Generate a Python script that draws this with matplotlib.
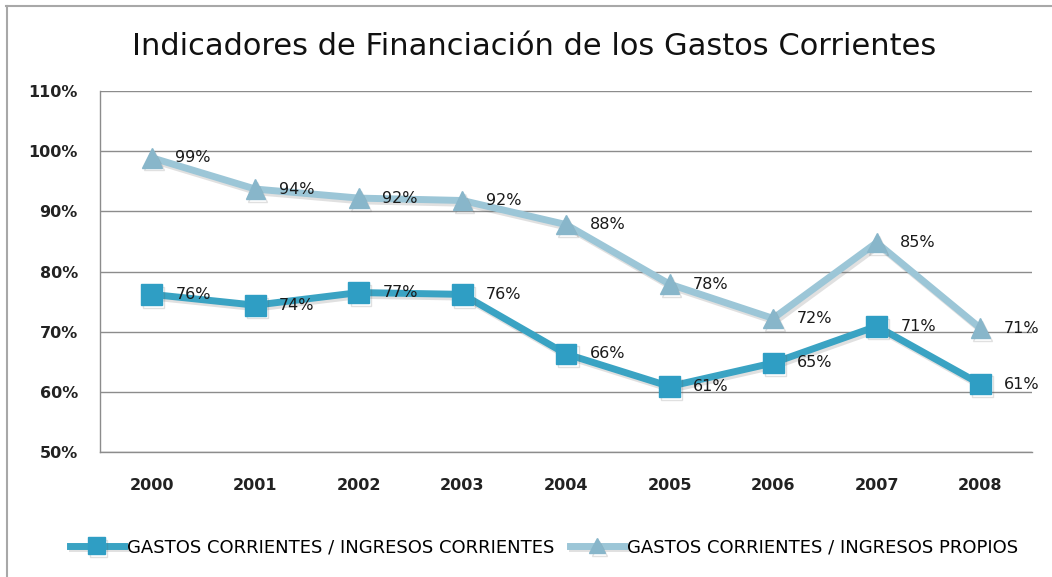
import matplotlib
matplotlib.use("Agg")
import matplotlib.pyplot as plt
import matplotlib.patheffects as pe
from matplotlib.lines import Line2D

years = ['2000', '2001', '2002', '2003', '2004', '2005', '2006', '2007', '2008']
ratio_corrientes = [76.2, 74.4, 76.5, 76.2, 66.3, 60.9, 64.8, 70.9, 61.3]
labels_corrientes = ['76%', '74%', '77%', '76%', '66%', '61%', '65%', '71%', '61%']
ratio_propios = [98.9, 93.7, 92.2, 91.8, 87.8, 77.9, 72.2, 84.8, 70.6]
labels_propios = ['99%', '94%', '92%', '92%', '88%', '78%', '72%', '85%', '71%']
y_ticks = [50, 60, 70, 80, 90, 100, 110]
series_names = ['GASTOS CORRIENTES / INGRESOS CORRIENTES',
                'GASTOS CORRIENTES / INGRESOS PROPIOS']

dark_line = '#3aa3c3'
dark_marker = '#2f9ec4'
light_line = '#9cc6d7'
light_marker = '#88b6ca'

fig = plt.figure(figsize=(10.52, 5.77), dpi=100)
fig.patch.set_facecolor('white')
ax = fig.add_axes([100 / 1052, 1 - 452 / 577, 932 / 1052, 361 / 577])

x = list(range(len(years)))
shadow = [pe.SimpleLineShadow(offset=(1.5, -2), alpha=0.18, shadow_color='#555555'), pe.Normal()]

l1, = ax.plot(x, ratio_corrientes, color=dark_line, lw=5, marker='s', markersize=15,
              markerfacecolor=dark_marker, markeredgecolor=dark_marker, zorder=3,
              path_effects=shadow, label=series_names[0])
l2, = ax.plot(x, ratio_propios, color=light_line, lw=5, marker='^', markersize=14,
              markerfacecolor=light_marker, markeredgecolor=light_marker, zorder=3,
              path_effects=shadow, label=series_names[1])

for xi, v, t in zip(x, ratio_corrientes, labels_corrientes):
    ax.annotate(t, (xi, v), xytext=(17, 0), textcoords='offset points', ha='left',
                va='center', fontsize=11.5, color='#1a1a1a', zorder=5)
for xi, v, t in zip(x, ratio_propios, labels_propios):
    ax.annotate(t, (xi, v), xytext=(17, 0), textcoords='offset points', ha='left',
                va='center', fontsize=11.5, color='#1a1a1a', zorder=5)

ax.set_xlim(-0.5, len(years) - 0.5)
ax.set_ylim(50, 110)
ax.set_yticks(y_ticks)
ax.set_yticklabels([f'{v}%' for v in y_ticks], fontsize=11.5, fontweight='bold', color='#222222')
ax.set_xticks(x)
ax.set_xticklabels(years, fontsize=11.5, fontweight='bold', color='#222222')
ax.tick_params(axis='both', length=0)
ax.tick_params(axis='y', pad=16)
ax.tick_params(axis='x', pad=19)
ax.grid(axis='y', color='#8c8c8c', lw=1)
ax.set_axisbelow(True)
for s in ['top', 'right']:
    ax.spines[s].set_visible(False)
for s in ['left', 'bottom']:
    ax.spines[s].set_color('#8c8c8c')
    ax.spines[s].set_linewidth(1)

fig.text(0.508, 1 - 55 / 577, 'Indicadores de Financiación de los Gastos Corrientes',
         ha='center', va='baseline', fontsize=22, family='DejaVu Sans', color='#111111')

fig.legend(handles=[l1, l2], loc='center', bbox_to_anchor=(0.517, 1 - 547 / 577), ncol=2,
           frameon=False, handlelength=3.0, handletextpad=0.15, columnspacing=0.9,
           markerscale=0.8, prop={'family': 'DejaVu Sans', 'size': 13})

# outer border
fig.add_artist(Line2D([6 / 1052, 1], [1 - 6 / 577, 1 - 6 / 577], transform=fig.transFigure,
                      color='#a8a8a8', lw=1.5))
fig.add_artist(Line2D([7 / 1052, 7 / 1052], [0, 1 - 6 / 577], transform=fig.transFigure,
                      color='#a8a8a8', lw=1.5))

fig.savefig('out.png', dpi=100, facecolor='white')
